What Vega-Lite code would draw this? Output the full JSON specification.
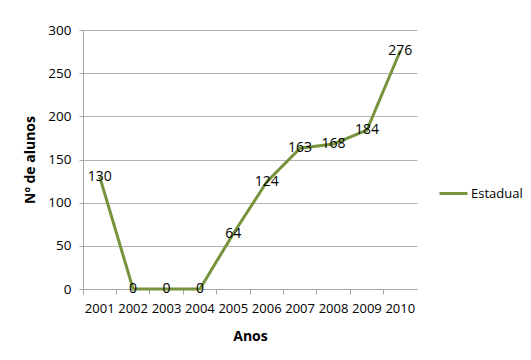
{
  "$schema": "https://vega.github.io/schema/vega-lite/v6.json",
  "autosize": "none",
  "width": 334,
  "height": 259,
  "padding": {"left": 83, "top": 30, "right": 114, "bottom": 71},
  "background": "white",
  "config": {
    "font": "Open Sans",
    "view": {"stroke": null}
  },
  "data": {
    "values": [
      {"ano": "2001", "alunos": 130, "serie": "Estadual"},
      {"ano": "2002", "alunos": 0, "serie": "Estadual"},
      {"ano": "2003", "alunos": 0, "serie": "Estadual"},
      {"ano": "2004", "alunos": 0, "serie": "Estadual"},
      {"ano": "2005", "alunos": 64, "serie": "Estadual"},
      {"ano": "2006", "alunos": 124, "serie": "Estadual"},
      {"ano": "2007", "alunos": 163, "serie": "Estadual"},
      {"ano": "2008", "alunos": 168, "serie": "Estadual"},
      {"ano": "2009", "alunos": 184, "serie": "Estadual"},
      {"ano": "2010", "alunos": 276, "serie": "Estadual"}
    ]
  },
  "encoding": {
    "x": {
      "field": "ano",
      "type": "ordinal",
      "bandPosition": 0.5,
      "scale": {"type": "band", "paddingInner": 0, "paddingOuter": 0},
      "axis": {
        "title": "Anos",
        "titleFontSize": 14,
        "titleFontWeight": "bold",
        "titleColor": "#000000",
        "titlePadding": 14,
        "labelAngle": 0,
        "labelFontSize": 13,
        "labelColor": "#000000",
        "labelPadding": 8,
        "bandPosition": 0,
        "tickSize": 5,
        "tickColor": "#a6a6a6",
        "domainColor": "#a6a6a6",
        "grid": false,
        "ticks": true,
        "tickExtra": true
      }
    },
    "y": {
      "field": "alunos",
      "type": "quantitative",
      "scale": {"domain": [0, 300], "nice": false},
      "axis": {
        "title": "Nº de alunos",
        "titleFontSize": 14,
        "titleFontWeight": "bold",
        "titleColor": "#000000",
        "titlePadding": 10,
        "values": [0, 50, 100, 150, 200, 250, 300],
        "labelFontSize": 13.5,
        "labelColor": "#000000",
        "labelPadding": 8,
        "tickSize": 4,
        "tickColor": "#a6a6a6",
        "domainColor": "#a6a6a6",
        "gridColor": "#b3b3b3",
        "gridWidth": 1
      }
    }
  },
  "layer": [
    {
      "mark": {"type": "line", "strokeWidth": 3, "color": "#77933C"},
      "encoding": {
        "color": {
          "field": "serie",
          "type": "nominal",
          "scale": {"range": ["#77933C"]},
          "legend": {
            "title": null,
            "orient": "none",
            "legendX": 355,
            "legendY": 148,
            "symbolType": "stroke",
            "symbolStrokeWidth": 3,
            "symbolSize": 784,
            "labelFontSize": 13,
            "labelColor": "#000000",
            "labelOffset": 2
          }
        }
      }
    },
    {
      "mark": {"type": "text", "fontSize": 14, "color": "#000000", "baseline": "middle", "align": "center"},
      "encoding": {
        "text": {"field": "alunos", "type": "quantitative"}
      }
    }
  ]
}
